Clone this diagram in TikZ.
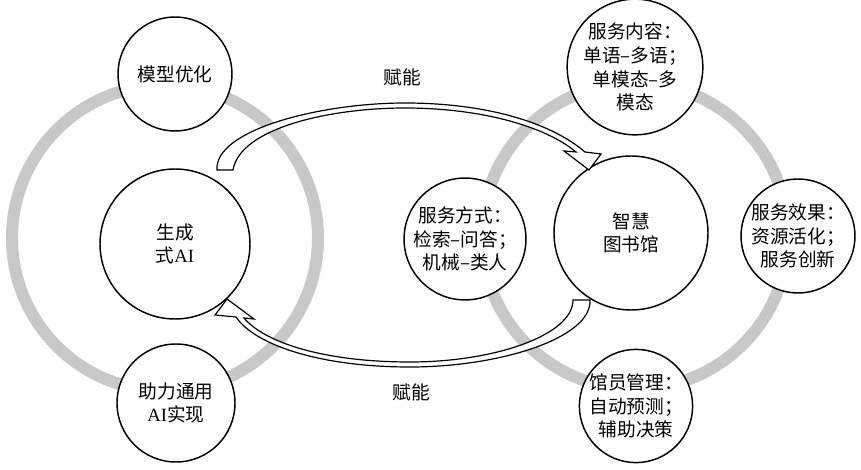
\documentclass[tikz,border=0pt]{standalone}
\usepackage{fontspec}
\setmainfont{Liberation Serif}
\newfontfamily\cjk{Noto Sans CJK SC}
\definecolor{ringgray}{RGB}{200,200,200}
\begin{document}
\begin{tikzpicture}[x=0.75pt,y=-0.75pt,
  ring/.style={draw=ringgray, line width=9pt},
  bub/.style={circle, draw, line width=1.1pt, fill=white, inner sep=0pt, align=center,
    font=\fontsize{14}{17.8}\selectfont\cjk},
  lbl/.style={font=\fontsize{14}{17.8}\selectfont\cjk, inner sep=1pt},
  blockarrow/.style={draw, line width=0.9pt, fill=white, line join=miter}]
\useasboundingbox (0,0) rectangle (861,470);
% grey rings
\draw[ring] (165,238) circle[radius=114.75pt];
\draw[ring] (635,236) circle[radius=114.75pt];
% left group
\node[bub, minimum size=85.5pt] (opt) at (175,74) {模型优化};
\node[bub, minimum size=112.5pt] (gen) at (175,244) {生成\\式{\rmfamily AI}};
\node[bub, minimum size=88.5pt] (agi) at (176,403) {助力通用\\{\rmfamily AI}实现};
% right group
\node[bub, minimum size=115.5pt] (lib) at (631,233) {智慧\\图书馆};
\node[bub, minimum size=94pt] (cont) at (635,67) {服务内容：\\单语–多语；\\单模态–多\\模态};
\node[bub, minimum size=85.5pt] (way) at (465,239) {服务方式：\\检索–问答；\\机械–类人};
\node[bub, minimum size=85.5pt] (eff) at (798,236) {服务效果：\\资源活化；\\服务创新};
\node[bub, minimum size=82.5pt] (staff) at (636,406) {馆员管理：\\自动预测；\\辅助决策};
% block arrows
\draw[blockarrow] (217,170) .. controls (214,130) and (320,103) .. (405,103)
  .. controls (485,103) and (550,122) .. (585,152) -- (601,154) -- (589,170)
  -- (564,151) -- (576,152) .. controls (545,126) and (480,108) .. (405,108)
  .. controls (330,108) and (240,128) .. (233,170) -- cycle;
\draw[blockarrow] (590,300) .. controls (592,338) and (500,367) .. (410,367)
  .. controls (320,367) and (255,345) .. (236,317) -- (215,315) -- (227,299)
  -- (254,319) -- (244,318) .. controls (265,343) and (325,362) .. (410,362)
  .. controls (495,362) and (573,335) .. (573,300) -- cycle;
% labels
\node[lbl] (f1) at (402,77) {赋能};
\node[lbl] (f2) at (411,392) {赋能};
\end{tikzpicture}
\end{document}
